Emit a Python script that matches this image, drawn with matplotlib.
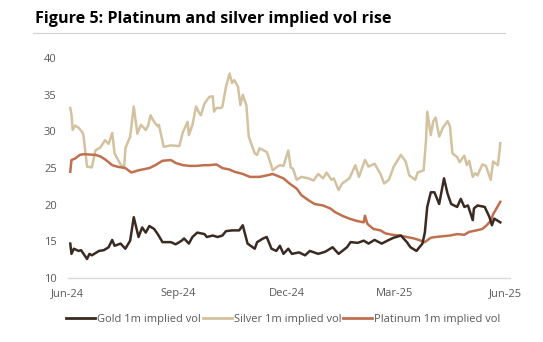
import matplotlib
matplotlib.use("Agg")
import matplotlib.pyplot as plt
import matplotlib.dates as mdates
import pandas as pd

title = "Figure 5: Platinum and silver implied vol rise"
series_names = ["Gold 1m implied vol", "Silver 1m implied vol", "Platinum 1m implied vol"]
tick_dates = ["2024-06-01", "2024-09-01", "2024-12-01", "2025-03-01", "2025-06-01"]
tick_labels = ["Jun-24", "Sep-24", "Dec-24", "Mar-25", "Jun-25"]
y_ticks = [10, 15, 20, 25, 30, 35, 40]

gold_dates = ["2024-06-03", "2024-06-04", "2024-06-06", "2024-06-10", "2024-06-12", "2024-06-17",
              "2024-06-19", "2024-06-21", "2024-06-27", "2024-07-01", "2024-07-05", "2024-07-08",
              "2024-07-10", "2024-07-15", "2024-07-19", "2024-07-23", "2024-07-26", "2024-07-30",
              "2024-08-02", "2024-08-05", "2024-08-08", "2024-08-12", "2024-08-15", "2024-08-19",
              "2024-08-26", "2024-08-30", "2024-09-04", "2024-09-06", "2024-09-10", "2024-09-13",
              "2024-09-17", "2024-09-23", "2024-09-25", "2024-09-30", "2024-10-04", "2024-10-08",
              "2024-10-11", "2024-10-16", "2024-10-22", "2024-10-25", "2024-10-29", "2024-11-04",
              "2024-11-06", "2024-11-11", "2024-11-14", "2024-11-18", "2024-11-22", "2024-11-25",
              "2024-11-28", "2024-12-02", "2024-12-05", "2024-12-11", "2024-12-16", "2024-12-20",
              "2024-12-27", "2025-01-02", "2025-01-08", "2025-01-13", "2025-01-20", "2025-01-23",
              "2025-01-29", "2025-02-03", "2025-02-07", "2025-02-12", "2025-02-18", "2025-02-24",
              "2025-02-28", "2025-03-06", "2025-03-11", "2025-03-14", "2025-03-19", "2025-03-24",
              "2025-03-26", "2025-03-28", "2025-03-31", "2025-04-03", "2025-04-07", "2025-04-08",
              "2025-04-11", "2025-04-14", "2025-04-17", "2025-04-22", "2025-04-25", "2025-04-28",
              "2025-05-01", "2025-05-05", "2025-05-06", "2025-05-09", "2025-05-15", "2025-05-19",
              "2025-05-21", "2025-05-23", "2025-05-28"]
gold_vol = [14.7, 13.3, 14.0, 13.7, 13.8, 12.6,
            13.3, 13.1, 13.7, 13.8, 14.2, 15.2,
            14.4, 14.7, 14.0, 15.1, 18.3, 15.6,
            16.9, 16.2, 17.1, 16.7, 16.0, 14.9,
            14.9, 14.6, 15.1, 15.4, 14.7, 15.6,
            16.2, 16.0, 15.6, 15.8, 15.6, 15.8,
            16.4, 16.5, 16.5, 17.2, 14.7, 14.0,
            14.9, 15.4, 15.6, 14.0, 13.7, 14.4,
            13.3, 14.0, 13.3, 13.5, 13.1, 13.7,
            13.3, 13.6, 14.2, 13.3, 14.2, 14.9,
            14.8, 15.1, 14.7, 15.2, 14.7, 15.2,
            15.5, 15.8, 14.9, 14.2, 13.7, 14.7,
            16.2, 19.7, 21.7, 21.7, 20.1, 21.0,
            23.6, 21.5, 20.1, 19.7, 20.8, 19.7,
            19.9, 17.9, 19.5, 19.9, 19.7, 18.3,
            17.2, 18.1, 17.6]

silver_dates = ["2024-06-03", "2024-06-04", "2024-06-05", "2024-06-07", "2024-06-10", "2024-06-13",
                "2024-06-14", "2024-06-17", "2024-06-21", "2024-06-24", "2024-06-28", "2024-07-02",
                "2024-07-05", "2024-07-08", "2024-07-10", "2024-07-15", "2024-07-18", "2024-07-19",
                "2024-07-23", "2024-07-26", "2024-07-29", "2024-08-01", "2024-08-05", "2024-08-07",
                "2024-08-09", "2024-08-12", "2024-08-15", "2024-08-16", "2024-08-20", "2024-08-26",
                "2024-09-02", "2024-09-05", "2024-09-09", "2024-09-10", "2024-09-13", "2024-09-16",
                "2024-09-18", "2024-09-20", "2024-09-23", "2024-09-27", "2024-09-30", "2024-10-01",
                "2024-10-03", "2024-10-07", "2024-10-08", "2024-10-11", "2024-10-14", "2024-10-16",
                "2024-10-18", "2024-10-21", "2024-10-23", "2024-10-25", "2024-10-28", "2024-10-30",
                "2024-11-04", "2024-11-06", "2024-11-08", "2024-11-14", "2024-11-15", "2024-11-19",
                "2024-11-22", "2024-11-25", "2024-11-28", "2024-12-02", "2024-12-04", "2024-12-06",
                "2024-12-09", "2024-12-13", "2024-12-19", "2024-12-23", "2024-12-27", "2024-12-31",
                "2025-01-03", "2025-01-07", "2025-01-09", "2025-01-13", "2025-01-16", "2025-01-22",
                "2025-01-27", "2025-01-30", "2025-02-04", "2025-02-07", "2025-02-12", "2025-02-17",
                "2025-02-20", "2025-02-24", "2025-02-28", "2025-03-06", "2025-03-10", "2025-03-13",
                "2025-03-18", "2025-03-20", "2025-03-25", "2025-03-27", "2025-03-28", "2025-03-31",
                "2025-04-02", "2025-04-04", "2025-04-07", "2025-04-10", "2025-04-14", "2025-04-16",
                "2025-04-18", "2025-04-22", "2025-04-24", "2025-04-28", "2025-04-30", "2025-05-02",
                "2025-05-05", "2025-05-07", "2025-05-09", "2025-05-13", "2025-05-16", "2025-05-20",
                "2025-05-22", "2025-05-26", "2025-05-27", "2025-05-28"]
silver_vol = [33.2, 32.3, 30.2, 30.8, 30.5, 29.9,
              29.5, 25.2, 25.1, 27.4, 27.8, 28.8,
              28.3, 29.8, 27.0, 25.5, 25.1, 27.7,
              29.3, 33.4, 29.7, 30.9, 30.2, 30.8,
              32.2, 31.3, 30.7, 30.9, 27.9, 28.1,
              28.0, 29.9, 31.3, 29.5, 30.9, 33.4,
              32.7, 32.2, 33.8, 34.7, 34.8, 32.7,
              33.2, 33.2, 33.4, 36.1, 37.9, 36.6,
              37.0, 36.1, 33.6, 35.0, 33.6, 29.3,
              27.0, 26.8, 27.7, 27.2, 26.8, 24.7,
              25.1, 25.4, 25.3, 27.4, 25.1, 24.9,
              23.4, 23.8, 23.6, 23.3, 24.2, 23.6,
              24.4, 23.4, 23.6, 22.0, 22.9, 23.6,
              25.4, 23.8, 26.1, 25.2, 25.6, 24.2,
              22.9, 23.4, 25.2, 26.8, 25.9, 24.0,
              23.4, 24.4, 24.7, 28.8, 32.7, 29.5,
              31.4, 31.9, 29.3, 30.5, 31.4, 30.7,
              27.0, 26.5, 25.8, 26.7, 25.4, 26.0,
              23.8, 24.3, 24.0, 25.5, 25.3, 23.4,
              25.9, 25.4, 26.8, 28.4]

platinum_dates = ["2024-06-03", "2024-06-04", "2024-06-07", "2024-06-11", "2024-06-14", "2024-06-24",
                  "2024-06-28", "2024-07-02", "2024-07-08", "2024-07-12", "2024-07-19", "2024-07-24",
                  "2024-07-30", "2024-08-08", "2024-08-13", "2024-08-19", "2024-08-26", "2024-08-30",
                  "2024-09-05", "2024-09-11", "2024-09-16", "2024-09-23", "2024-09-27", "2024-10-03",
                  "2024-10-08", "2024-10-14", "2024-10-18", "2024-10-25", "2024-10-31", "2024-11-08",
                  "2024-11-14", "2024-11-19", "2024-11-22", "2024-11-28", "2024-12-03", "2024-12-09",
                  "2024-12-13", "2024-12-19", "2024-12-24", "2024-12-31", "2025-01-06", "2025-01-10",
                  "2025-01-16", "2025-01-22", "2025-01-28", "2025-02-03", "2025-02-04", "2025-02-06",
                  "2025-02-11", "2025-02-17", "2025-02-21", "2025-02-27", "2025-03-05", "2025-03-11",
                  "2025-03-17", "2025-03-21", "2025-03-26", "2025-03-31", "2025-04-04", "2025-04-10",
                  "2025-04-16", "2025-04-22", "2025-04-28", "2025-05-02", "2025-05-08", "2025-05-13",
                  "2025-05-16", "2025-05-20", "2025-05-22", "2025-05-28"]
platinum_vol = [24.5, 26.1, 26.3, 26.8, 26.9, 26.8,
                26.6, 26.2, 25.4, 25.2, 25.0, 24.4,
                24.7, 25.0, 25.4, 26.0, 26.1, 25.7,
                25.4, 25.3, 25.3, 25.4, 25.4, 25.5,
                25.0, 24.8, 24.5, 24.2, 23.8, 23.8,
                24.0, 24.2, 24.0, 23.6, 22.9, 22.2,
                21.3, 20.6, 20.1, 19.9, 19.5, 19.0,
                18.5, 18.1, 17.8, 17.6, 18.5, 17.4,
                16.7, 16.5, 16.1, 15.9, 15.8, 15.6,
                15.4, 15.2, 14.9, 15.5, 15.6, 15.7,
                15.8, 16.0, 15.9, 16.3, 16.5, 16.7,
                17.1, 17.8, 18.7, 20.4]

colors = ["#3b2a22", "#d3c2a0", "#c0704f"]

fig = plt.figure(figsize=(5.43, 3.42), dpi=100)
fig.patch.set_facecolor("white")
ax = fig.add_axes([0.125, 0.187, 0.814, 0.643])

ax.plot(pd.to_datetime(gold_dates), gold_vol, color=colors[0], lw=1.8, label=series_names[0], zorder=3)
ax.plot(pd.to_datetime(silver_dates), silver_vol, color=colors[1], lw=1.8, label=series_names[1], zorder=2)
ax.plot(pd.to_datetime(platinum_dates), platinum_vol, color=colors[2], lw=1.8, label=series_names[2], zorder=2.5)

ax.set_ylim(10, 40)
ax.set_yticks(y_ticks)
ax.set_xlim(pd.Timestamp("2024-06-01"), pd.Timestamp("2025-06-05"))
ax.set_xticks(pd.to_datetime(tick_dates))
ax.set_xticklabels(tick_labels)

for s in ["top", "right", "left"]:
    ax.spines[s].set_visible(False)
ax.spines["bottom"].set_color("#d9d9d9")
ax.spines["bottom"].set_linewidth(1.0)
ax.tick_params(axis="both", length=0, labelsize=8, labelcolor="#595959")
ax.tick_params(axis="x", pad=7)
ax.tick_params(axis="y", pad=8)
for lab in ax.get_xticklabels() + ax.get_yticklabels():
    lab.set_fontfamily("Open Sans")

fig.text(0.064, 0.945, title, fontsize=11.6, fontweight="bold", family="Open Sans",
         color="#000000", ha="left", va="center")
fig.add_artist(plt.Line2D([0.061, 0.93], [0.903, 0.903], color="#d0d0d0", lw=0.8))

leg = fig.legend(loc="center", bbox_to_anchor=(0.522, 0.067), ncol=3, frameon=False,
                 handlelength=2.6, handletextpad=0.2, columnspacing=0.15,
                 prop={"family": "Open Sans", "size": 8})
for t in leg.get_texts():
    t.set_color("#595959")
for h in leg.get_lines():
    h.set_linewidth(2.0)

fig.savefig("out.png", dpi=100)
